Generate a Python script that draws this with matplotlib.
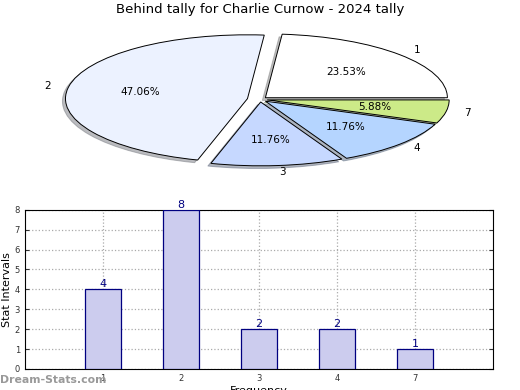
import matplotlib
matplotlib.use('Agg')
import matplotlib.pyplot as plt

# data
labels = ['1', '2', '3', '4', '7']
counts = [4, 8, 2, 2, 1]
pie_colors = ['#ffffff', '#ecf2ff', '#c6d8ff', '#b5d5ff', '#ccea88']
explode = [0.04, 0.07, 0.04, 0.04, 0.04]

fig = plt.figure(figsize=(5.2, 3.9), dpi=100)
fig.set_facecolor('white')

# pie on top, squashed into an ellipse
ax1 = fig.add_axes([0.115, 0.565, 0.77, 0.36])
wedges, texts, autotexts = ax1.pie(counts, labels=labels, colors=pie_colors, explode=explode,
                                   autopct='%.2f%%', startangle=0,
                                   shadow=dict(ox=-0.012, oy=-0.03, shade=0.5),
                                   labeldistance=1.1, pctdistance=0.6,
                                   wedgeprops=dict(edgecolor='black', linewidth=0.7),
                                   textprops=dict(fontsize=7.5))
ax1.set_aspect('auto')
ax1.set_xlim(-1.1, 1.1)
ax1.set_ylim(-1.1, 1.1)
fig.text(0.5, 0.992, 'Behind tally for Charlie Curnow - 2024 tally', ha='center', va='top', fontsize=9.5)

# bar chart below
ax2 = fig.add_axes([0.048, 0.054, 0.9, 0.408])
x = list(range(len(labels)))
ax2.bar(x, counts, width=0.46, color='#ccccee', edgecolor='navy', linewidth=0.9, zorder=3)
for xi, c in zip(x, counts):
    ax2.text(xi, c, str(c), ha='center', va='bottom', color='navy', fontsize=8, zorder=4)
ax2.set_xlim(-1, 5)
ax2.set_ylim(0, 8)
ax2.set_xticks(x)
ax2.set_xticklabels(labels)
ax2.set_yticks(range(0, 9))
ax2.tick_params(labelsize=6, direction='in', length=3, right=True, top=False, colors='#333333')
ax2.grid(True, linestyle=':', color='#aaaaaa', linewidth=0.9, zorder=0)
ax2.set_ylabel('Stat Intervals', fontsize=8, labelpad=2)
ax2.set_xlabel('Frequency', fontsize=8, labelpad=2)

# watermark
fig.text(0.0, 0.025, 'Dream-Stats.com', fontsize=7.8, color='#999999', fontweight='bold', ha='left', va='center')

fig.savefig('out.png', dpi=100)
